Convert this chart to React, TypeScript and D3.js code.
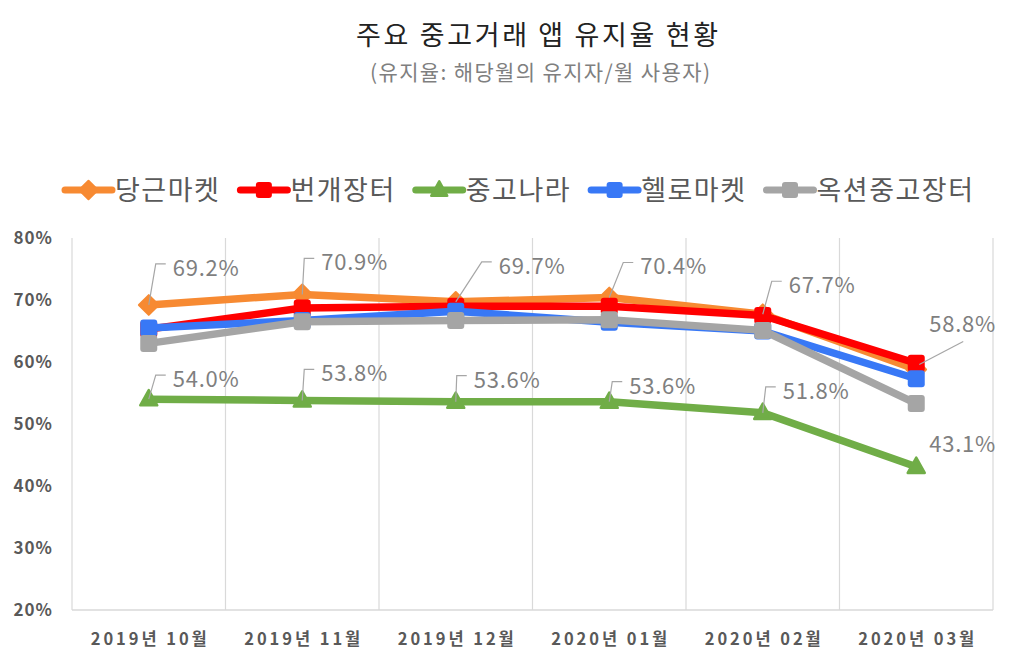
import * as d3 from "d3";
import { useEffect, useRef } from "react";

const months = ["2019년 10월", "2019년 11월", "2019년 12월", "2020년 01월", "2020년 02월", "2020년 03월"];
const seriesNames = ["당근마켓", "번개장터", "중고나라", "헬로마켓", "옥션중고장터"];
const daangn = [69.2, 70.9, 69.7, 70.4, 67.7, 58.8];
const bungae = [65.3, 68.7, 69.0, 69.0, 67.5, 59.8];
const joonggo = [54.0, 53.8, 53.6, 53.6, 51.8, 43.1];
const hello = [65.5, 66.7, 68.2, 66.4, 65.0, 57.3];
const auction = [63.0, 66.5, 66.7, 66.8, 65.1, 53.3];
const yTicks = [20, 30, 40, 50, 60, 70, 80];

const title = "주요 중고거래 앱 유지율 현황";
const subtitle = "(유지율: 해당월의 유지자/월 사용자)";

// label placement (dx, dy from the point, leader kind)
type LabelPos = { dx: number; dy: number; leader: "elbow" | "none" | "below" };
const daangnLabelPos: LabelPos[] = [
  { dx: 24, dy: -37, leader: "elbow" },
  { dx: 19, dy: -32, leader: "elbow" },
  { dx: 43, dy: -36, leader: "elbow" },
  { dx: 31, dy: -31, leader: "elbow" },
  { dx: 26, dy: -29, leader: "elbow" },
  { dx: 13, dy: -45, leader: "below" },
];
const joonggoLabelPos: LabelPos[] = [
  { dx: 24, dy: -20, leader: "elbow" },
  { dx: 19, dy: -27, leader: "elbow" },
  { dx: 18, dy: -22, leader: "elbow" },
  { dx: 20, dy: -16, leader: "elbow" },
  { dx: 20, dy: -22, leader: "elbow" },
  { dx: 13, dy: -23, leader: "none" },
];

const FONT = "'Noto Sans CJK KR', 'Noto Sans', sans-serif";

type Series = {
  name: string;
  values: number[];
  color: string;
  marker: "diamond" | "square" | "triangle";
  labels?: LabelPos[];
};

const App = () => {
  const ref = useRef<SVGSVGElement>(null);

  useEffect(() => {
    const svg = d3.select(ref.current);
    svg.selectAll("*").remove();

    const series: Series[] = [
      { name: seriesNames[0], values: daangn, color: "#F78A32", marker: "diamond", labels: daangnLabelPos },
      { name: seriesNames[1], values: bungae, color: "#FF0000", marker: "square" },
      { name: seriesNames[2], values: joonggo, color: "#70AD47", marker: "triangle", labels: joonggoLabelPos },
      { name: seriesNames[3], values: hello, color: "#3878F6", marker: "square" },
      { name: seriesNames[4], values: auction, color: "#A5A5A5", marker: "square" },
    ];

    const left = 72,
      right = 993,
      top = 238,
      bottom = 610;

    const x = d3.scaleBand().domain(months).range([left, right]).padding(0);
    const cx = (i: number) => x(months[i])! + x.bandwidth() / 2;
    const y = d3.scaleLinear().domain([20, 80]).range([bottom, top]);

    // title
    svg
      .append("text")
      .attr("x", 537)
      .attr("y", 45)
      .attr("text-anchor", "middle")
      .attr("font-family", FONT)
      .attr("font-size", 27)
      .attr("fill", "#222")
      .attr("textLength", 362)
      .attr("lengthAdjust", "spacing")
      .text(title);
    svg
      .append("text")
      .attr("x", 540)
      .attr("y", 80)
      .attr("text-anchor", "middle")
      .attr("font-family", FONT)
      .attr("font-size", 21)
      .attr("fill", "#7f7f7f")
      .attr("textLength", 340)
      .attr("lengthAdjust", "spacing")
      .text(subtitle);

    // vertical gridlines at band edges
    const edges = months.map((m) => x(m)!).concat([right]);
    svg
      .append("g")
      .selectAll("line")
      .data(edges)
      .enter()
      .append("line")
      .attr("x1", (d) => d)
      .attr("x2", (d) => d)
      .attr("y1", top)
      .attr("y2", bottom)
      .attr("stroke", "#d9d9d9")
      .attr("stroke-width", 1.2);
    svg
      .append("line")
      .attr("x1", left)
      .attr("x2", right)
      .attr("y1", bottom)
      .attr("y2", bottom)
      .attr("stroke", "#d9d9d9")
      .attr("stroke-width", 1.5);

    // y labels
    svg
      .append("g")
      .selectAll("text")
      .data(yTicks)
      .enter()
      .append("text")
      .attr("x", 53)
      .attr("y", (d) => y(d))
      .attr("dy", "0.36em")
      .attr("text-anchor", "end")
      .attr("font-family", FONT)
      .attr("font-weight", "bold")
      .attr("font-size", 17)
      .attr("letter-spacing", 1)
      .attr("fill", "#595959")
      .text((d) => `${d}%`);

    // x labels
    svg
      .append("g")
      .selectAll("text")
      .data(months)
      .enter()
      .append("text")
      .attr("x", (_d, i) => cx(i))
      .attr("y", 645)
      .attr("text-anchor", "middle")
      .attr("font-family", FONT)
      .attr("font-weight", "bold")
      .attr("font-size", 16.5)
      .attr("fill", "#595959")
      .attr("textLength", 116)
      .attr("lengthAdjust", "spacing")
      .text((d) => d);

    const drawMarker = (g: any, kind: string, px: number, py: number, color: string, s: number) => {
      if (kind === "square") {
        g.append("rect")
          .attr("x", px - s / 2)
          .attr("y", py - s / 2)
          .attr("width", s)
          .attr("height", s)
          .attr("rx", 3)
          .attr("fill", color);
      } else if (kind === "diamond") {
        const r = s * 0.58;
        g.append("path")
          .attr("d", `M${px},${py - r}L${px + r},${py}L${px},${py + r}L${px - r},${py}Z`)
          .attr("fill", color)
          .attr("stroke", color)
          .attr("stroke-width", 2)
          .attr("stroke-linejoin", "round");
      } else {
        const h = s * 0.9;
        g.append("path")
          .attr("d", `M${px},${py - h * 0.6}L${px + s / 2},${py + h * 0.4}L${px - s / 2},${py + h * 0.4}Z`)
          .attr("fill", color)
          .attr("stroke", color)
          .attr("stroke-width", 2.5)
          .attr("stroke-linejoin", "round");
      }
    };

    // lines + markers
    const line = d3
      .line<number>()
      .x((_d, i) => cx(i))
      .y((d) => y(d));
    series.forEach((s) => {
      const g = svg.append("g");
      g.append("path")
        .attr("d", line(s.values)!)
        .attr("fill", "none")
        .attr("stroke", s.color)
        .attr("stroke-width", 7.5)
        .attr("stroke-linejoin", "round");
      s.values.forEach((v, i) => drawMarker(g, s.marker, cx(i), y(v), s.color, 17));
    });

    // data labels
    series.forEach((s) => {
      if (!s.labels) return;
      const g = svg.append("g");
      s.values.forEach((v, i) => {
        const p = s.labels![i];
        const px = cx(i),
          py = y(v);
        const tx = px + p.dx,
          ty = py + p.dy;
        if (p.leader === "elbow") {
          g.append("polyline")
            .attr("points", `${px},${py} ${tx - 17},${ty - 4} ${tx - 7},${ty - 4}`)
            .attr("fill", "none")
            .attr("stroke", "#a6a6a6")
            .attr("stroke-width", 1.2);
        } else if (p.leader === "below") {
          g.append("line")
            .attr("x1", tx + 34)
            .attr("y1", ty + 17)
            .attr("x2", px + 3)
            .attr("y2", py - 5)
            .attr("stroke", "#a6a6a6")
            .attr("stroke-width", 1.2);
        }
        g.append("text")
          .attr("x", tx)
          .attr("y", ty)
          .attr("dy", "0.36em")
          .attr("font-family", FONT)
          .attr("font-size", 22)
          .attr("fill", "#7f7f7f")
          .attr("textLength", 66)
          .attr("lengthAdjust", "spacing")
          .text(`${v.toFixed(1)}%`);
      });
    });

    // legend
    const lg = svg.append("g");
    let lx = 65;
    const ly = 190;
    series.forEach((s) => {
      lg.append("line")
        .attr("x1", lx)
        .attr("x2", lx + 47)
        .attr("y1", ly)
        .attr("y2", ly)
        .attr("stroke", s.color)
        .attr("stroke-width", 7)
        .attr("stroke-linecap", "round");
      drawMarker(lg, s.marker, lx + 23.5, ly, s.color, 16);
      const t = lg
        .append("text")
        .attr("x", lx + 50)
        .attr("y", ly)
        .attr("dy", "0.36em")
        .attr("font-family", FONT)
        .attr("font-size", 27)
        .attr("letter-spacing", 1.5)
        .attr("fill", "#595959")
        .text(s.name);
      const w = (t.node() as SVGTextElement).getComputedTextLength();
      lx += 50 + w + 20;
    });
  }, []);

  return (
    <svg
      ref={ref}
      width={1024}
      height={671}
      style={{ position: "absolute", left: 0, top: 0, background: "#fff" }}
    />
  );
};

export default App;
